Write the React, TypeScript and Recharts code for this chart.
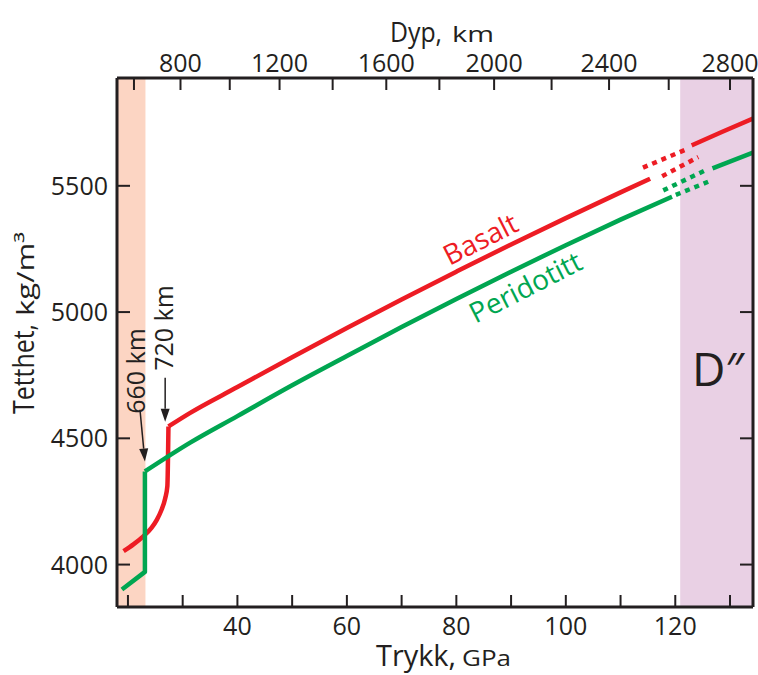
import { LineChart, Line, XAxis, YAxis, ReferenceArea, ReferenceLine } from 'recharts';

const INK = '#231f20';
const RED = '#ed1c24';
const GREEN = '#00a651';
const FONT = '"Open Sans", "DejaVu Sans", sans-serif';

// axes
const pressureDomain = [18, 134.2];
const densityDomain = [3832, 5927];
const pressureTicks = [20, 30, 40, 50, 60, 70, 80, 90, 100, 110, 120, 130];
const pressureLabels = [40, 60, 80, 100, 120];
const depthKm = [600, 800, 1000, 1200, 1400, 1600, 1800, 2000, 2200, 2400, 2600, 2800];
const depthPressure = [21.1, 29.6, 38.6, 47.7, 57.4, 67.2, 76.9, 86.9, 97.4, 107.9, 118.8, 130.0];
const depthLabels = [800, 1200, 1600, 2000, 2400, 2800];
const densityTicks = [4000, 4500, 5000, 5500];

// shaded zones (GPa)
const transitionZone = [18, 23.2];
const dDoubleZone = [120.9, 134.2];

// basalt
const basaltJumpP = [19.2, 21, 22.8, 24.3, 25.3, 26.1, 26.8, 27.2, 27.4];
const basaltJumpRho = [4053, 4080, 4112, 4145, 4178, 4215, 4262, 4310, 4547];
const basaltP = [27.4, 31.3, 40, 50, 60, 70, 80, 90, 100, 110, 115.4];
const basaltRho = [4547, 4600, 4703, 4821, 4937, 5050, 5160, 5268, 5372, 5474, 5528];
const basaltGapLowP = [117.6, 124.2];
const basaltGapLowRho = [5538, 5614];
const basaltGapHighP = [114.1, 122.3];
const basaltGapHighRho = [5572, 5647];
const basaltDP = [123.0, 128.5, 134.2];
const basaltDRho = [5660, 5713, 5766];

// peridotitt
const peridJumpP = [18.9, 23.1, 23.1];
const peridJumpRho = [3901, 3971, 4369];
const peridP = [23.1, 31.3, 40, 50, 60, 70, 80, 90, 100, 110, 119.4];
const peridRho = [4369, 4482, 4588, 4710, 4826, 4941, 5052, 5160, 5265, 5366, 5457];
const peridGapLowP = [120.1, 126.0];
const peridGapLowRho = [5464, 5516];
const peridGapHighP = [117.8, 125.55];
const peridGapHighRho = [5482, 5562];
const peridDP = [126.8, 134.2];
const peridDRho = [5569, 5632];

// arrows for 660 km / 720 km
const arrow660 = [{ x: 22.2, y: 4613 }, { x: 23.1, y: 4408 }];
const arrow720 = [{ x: 26.8, y: 4740 }, { x: 26.8, y: 4566 }];

const pts = (p: number[], r: number[]) => p.map((v, i) => ({ p: v, rho: r[i] }));

const BottomTick = (props: any) => {
  const { x, y, payload } = props;
  const v = payload.value;
  return (
    <g>
      <line x1={x} y1={y} x2={x} y2={y - 12} stroke={INK} strokeWidth={2} />
      {pressureLabels.includes(v) && (
        <text x={x} y={y + 28} textAnchor="middle" fontSize={25} fontFamily={FONT} fill={INK}>
          {v}
        </text>
      )}
    </g>
  );
};

const TopTick = (props: any) => {
  const { x, y, payload } = props;
  const km = depthKm[depthPressure.indexOf(payload.value)];
  return (
    <g>
      <line x1={x} y1={y} x2={x} y2={y + 12} stroke={INK} strokeWidth={2} />
      {depthLabels.includes(km) && (
        <text x={x} y={y - 6} textAnchor="middle" fontSize={25} fontFamily={FONT} fill={INK}>
          {km}
        </text>
      )}
    </g>
  );
};

const LeftTick = (props: any) => {
  const { x, y, payload } = props;
  return (
    <g>
      <line x1={x} y1={y} x2={x + 13} y2={y} stroke={INK} strokeWidth={2} />
      <text x={x - 9} y={y + 9} textAnchor="end" fontSize={25} fontFamily={FONT} fill={INK}>
        {payload.value}
      </text>
    </g>
  );
};

const RightTick = (props: any) => {
  const { x, y } = props;
  return <line x1={x} y1={y} x2={x - 13} y2={y} stroke={INK} strokeWidth={2} />;
};

const ArrowShape = (props: any) => {
  const { x1, y1, x2, y2 } = props;
  const a = Math.atan2(y2 - y1, x2 - x1);
  const len = 13;
  const w = 4.5;
  const bx = x2 - len * Math.cos(a);
  const by = y2 - len * Math.sin(a);
  const px = -Math.sin(a) * w;
  const py = Math.cos(a) * w;
  return (
    <g>
      <line x1={x1} y1={y1} x2={bx} y2={by} stroke={INK} strokeWidth={1.5} />
      <polygon points={`${x2},${y2} ${bx + px},${by + py} ${bx - px},${by - py}`} fill={INK} />
    </g>
  );
};

const series = [
  { key: 'basaltJump', data: pts(basaltJumpP, basaltJumpRho), color: RED, dash: undefined, curve: 'monotone' },
  { key: 'basalt', data: pts(basaltP, basaltRho), color: RED, dash: undefined, curve: 'monotone' },
  { key: 'basaltLow', data: pts(basaltGapLowP, basaltGapLowRho), color: RED, dash: '5 5', curve: 'linear' },
  { key: 'basaltHigh', data: pts(basaltGapHighP, basaltGapHighRho), color: RED, dash: '5 5', curve: 'linear' },
  { key: 'basaltD', data: pts(basaltDP, basaltDRho), color: RED, dash: undefined, curve: 'monotone' },
  { key: 'peridJump', data: pts(peridJumpP, peridJumpRho), color: GREEN, dash: undefined, curve: 'linear' },
  { key: 'perid', data: pts(peridP, peridRho), color: GREEN, dash: undefined, curve: 'monotone' },
  { key: 'peridLow', data: pts(peridGapLowP, peridGapLowRho), color: GREEN, dash: '5 5', curve: 'linear' },
  { key: 'peridHigh', data: pts(peridGapHighP, peridGapHighRho), color: GREEN, dash: '5 5', curve: 'linear' },
  { key: 'peridD', data: pts(peridDP, peridDRho), color: GREEN, dash: undefined, curve: 'linear' },
];

const Overlay = () => (
  <svg
    width={758}
    height={675}
    style={{ position: 'absolute', left: 0, top: 0, pointerEvents: 'none' }}
    fontFamily={FONT}
  >
    <text x={390} y={42} fontSize={28} fill={INK} textLength={52} lengthAdjust="spacingAndGlyphs">Dyp,</text>
    <text x={452} y={42} fontSize={22} fill={INK} textLength={42} lengthAdjust="spacingAndGlyphs">km</text>

    <text x={376} y={666} fontSize={30} fill={INK} textLength={80} lengthAdjust="spacingAndGlyphs">Trykk,</text>
    <text x={462} y={666} fontSize={22} fill={INK} textLength={49} lengthAdjust="spacingAndGlyphs">GPa</text>

    <text x={34} y={414} fontSize={30} fill={INK} transform="rotate(-90, 34, 414)" textLength={90} lengthAdjust="spacingAndGlyphs">Tetthet,</text>
    <text x={34} y={316} fontSize={23} fill={INK} transform="rotate(-90, 34, 316)" textLength={84} lengthAdjust="spacingAndGlyphs">kg/m³</text>

    <text x={145} y={371} textAnchor="middle" fontSize={25} fill={INK} transform="rotate(-90, 145, 371)">660 km</text>
    <text x={173} y={328} textAnchor="middle" fontSize={25} fill={INK} transform="rotate(-90, 173, 328)">720 km</text>

    <text x={485} y={248} textAnchor="middle" fontSize={28} fill={RED} transform="rotate(-27, 485, 248)">Basalt</text>
    <text x={530} y={296} textAnchor="middle" fontSize={28} fill={GREEN} transform="rotate(-27, 530, 296)">Peridotitt</text>

    <text x={718} y={386} textAnchor="middle" fontSize={46} fill={INK}>D″</text>
  </svg>
);

export default function App() {
  return (
    <div style={{ position: 'absolute', left: 0, top: 0, width: 758, height: 675, background: '#fff' }}>
      <LineChart width={758} height={675} margin={{ top: 38, right: 3, bottom: 28, left: 57 }}>
        <ReferenceArea
          xAxisId="p"
          yAxisId="rho"
          x1={transitionZone[0]}
          x2={transitionZone[1]}
          fill="#fcd5c3"
          fillOpacity={1}
          stroke="none"
        />
        <ReferenceArea
          xAxisId="p"
          yAxisId="rho"
          x1={dDoubleZone[0]}
          x2={dDoubleZone[1]}
          fill="#e9d0e4"
          fillOpacity={1}
          stroke="none"
        />

        {series.map((s) => (
          <Line
            key={s.key}
            data={s.data}
            dataKey="rho"
            xAxisId="p"
            yAxisId="rho"
            type={s.curve as any}
            stroke={s.color}
            strokeWidth={4.5}
            strokeDasharray={s.dash}
            strokeLinecap="butt"
            strokeLinejoin="round"
            dot={false}
            activeDot={false}
            isAnimationActive={false}
          />
        ))}

        <ReferenceLine xAxisId="p" yAxisId="rho" segment={arrow660} shape={ArrowShape} />
        <ReferenceLine xAxisId="p" yAxisId="rho" segment={arrow720} shape={ArrowShape} />

        <XAxis
          xAxisId="p"
          dataKey="p"
          type="number"
          domain={pressureDomain}
          allowDataOverflow
          ticks={pressureTicks}
          interval={0}
          height={40}
          tickSize={0}
          tickMargin={0}
          tickLine={false}
          tick={BottomTick}
          axisLine={{ stroke: INK, strokeWidth: 3 }}
        />
        <XAxis
          xAxisId="top"
          dataKey="p"
          type="number"
          orientation="top"
          domain={pressureDomain}
          allowDataOverflow
          ticks={depthPressure}
          interval={0}
          height={40}
          tickSize={0}
          tickMargin={0}
          tickLine={false}
          tick={TopTick}
          axisLine={{ stroke: INK, strokeWidth: 3 }}
        />
        <YAxis
          yAxisId="rho"
          type="number"
          domain={densityDomain}
          allowDataOverflow
          ticks={densityTicks}
          interval={0}
          width={60}
          tickSize={0}
          tickMargin={0}
          tickLine={false}
          tick={LeftTick}
          axisLine={{ stroke: INK, strokeWidth: 3 }}
        />
        <YAxis
          yAxisId="rhoR"
          orientation="right"
          type="number"
          domain={densityDomain}
          allowDataOverflow
          ticks={densityTicks}
          interval={0}
          width={2}
          tickSize={0}
          tickMargin={0}
          tickLine={false}
          tick={RightTick}
          axisLine={{ stroke: INK, strokeWidth: 3 }}
        />
      </LineChart>
      <Overlay />
    </div>
  );
}
